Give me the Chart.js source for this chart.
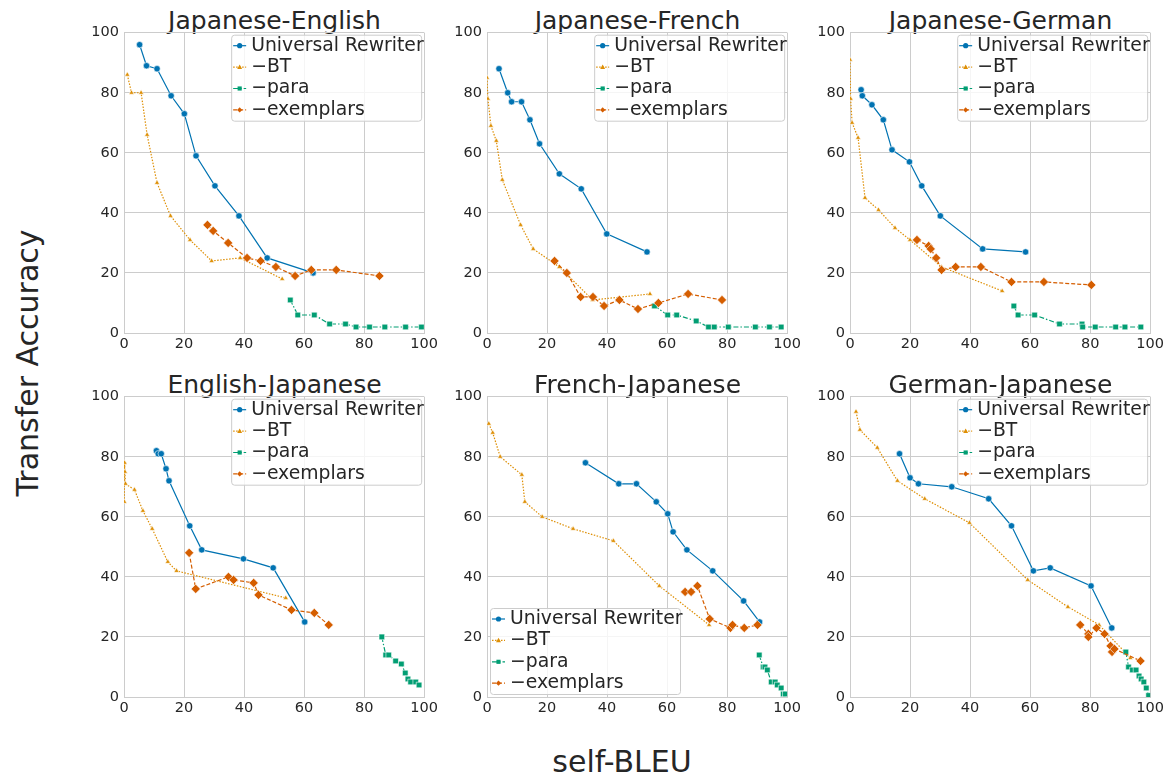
<!DOCTYPE html>
<html lang="en">
<head>
<meta charset="UTF-8" />
<title>Transfer Accuracy vs self-BLEU</title>
<script src="https://cdn.jsdelivr.net/npm/chart.js@4"></script>
<style>
  body { margin: 0; background: #fff; font-family: "DejaVu Sans", sans-serif; color: #262626; }
  #figure { position: relative; width: 1172px; height: 778px; overflow: hidden; }
  .panel { position: absolute; }
  .title { position: absolute; width: 301px; text-align: center; font-size: 25px; line-height: 1; white-space: nowrap; }
  .axis-label { position: absolute; font-size: 30px; line-height: 1; white-space: nowrap; transform: translate(-50%, -50%); }
  #ylabel { left: 28px; top: 363px; transform: translate(-50%, -50%) rotate(-90deg); }
  #xlabel { left: 622px; top: 762px; }
</style>
</head>
<body>
<div id="figure">
  <div class="axis-label" id="ylabel">Transfer Accuracy</div>
  <div class="axis-label" id="xlabel">self-BLEU</div>
</div>

<script>
// series labels and axis ticks
const seriesLabels = ["Universal Rewriter", "\u2212BT", "\u2212para", "\u2212exemplars"];
const axisTicks = [0, 20, 40, 60, 80, 100];
const panelTitles = ["Japanese-English", "Japanese-French", "Japanese-German",
                     "English-Japanese", "French-Japanese", "German-Japanese"];

// [self-BLEU, transfer accuracy]
const jaEnRewriter = [[5.2,96],[7.5,89],[11,88],[15.7,79],[20.1,73],[24,59],[30.3,49],[38.3,39],[47.7,25],[63,20]];
const jaEnBT = [[1.1,86],[2.5,80],[5.7,80],[7.7,66],[11,50],[15.5,39],[22,31],[29.2,24],[38.7,25],[52.7,18]];
const jaEnPara = [[55.4,11],[57.9,6],[63.4,6],[68.5,3],[73.8,3],[77.3,2],[81.8,2],[86.9,2],[93.8,2],[99.1,2]];
const jaEnExemplars = [[27.8,36],[29.7,34],[34.7,30],[41,25],[45.5,24],[50.6,22],[57,19],[62.4,21],[70.7,21],[85.1,19]];

const jaFrRewriter = [[4,88],[6.9,80],[8.2,77],[11.5,77],[14.3,71],[17.5,63],[24.1,53],[31.4,48],[39.9,33],[53.3,27]];
const jaFrBT = [[0,85],[0.3,78],[1.3,69],[3.1,64],[5.1,51],[11.2,36],[15.4,28],[24.1,22],[35.2,11],[54.3,13]];
const jaFrPara = [[55.8,9],[60.2,6],[63.2,6],[69.7,4],[73.8,2],[75.7,2],[80.4,2],[89.4,2],[94.1,2],[98,2]];
const jaFrExemplars = [[22.5,24],[26.6,20],[31.2,12],[35.3,12],[39,9],[44.1,11],[50.3,8],[57.1,10],[67,13],[78.3,11]];

const jaDeRewriter = [[3.7,81],[4.1,79],[7.3,76],[11.1,71],[14,61],[19.8,57],[23.9,49],[30.1,39],[44.2,28],[58.5,27]];
const jaDeBT = [[0,91],[0.2,78],[0.7,70],[2.7,65],[5,45],[9.5,41],[15,35],[20,31],[30.5,22],[50.7,14]];
const jaDePara = [[54.6,9],[56,6],[61.5,6],[69.8,3],[77.3,3],[77.5,2],[81.7,2],[88.5,2],[91.6,2],[96.9,2]];
const jaDeExemplars = [[22.3,31],[26.2,29],[26.9,28],[28.7,25],[30.5,21],[35.2,22],[43.6,22],[53.8,17],[64.6,17],[80.4,16]];

const enJaRewriter = [[10.8,82],[11.4,81],[12.4,81],[14,76],[15,72],[21.9,57],[25.9,49],[39.8,46],[49.7,43],[60.2,25]];
const enJaBT = [[0.1,65],[0.2,78],[0.3,75],[0.5,71],[3.5,69],[6.3,62],[9.4,56],[14.6,45],[17.5,42],[53.9,33]];
const enJaPara = [[85.9,20],[87.2,14],[88.2,14],[90.5,12],[92.4,11],[93.7,8],[94.6,6],[95.5,5],[97.2,5],[98.3,4]];
const enJaExemplars = [[21.7,48],[23.9,36],[34.8,40],[36.5,39],[43.2,38],[44.8,34],[55.8,29],[63.4,28],[68.2,24]];

const frJaRewriter = [[32.8,78],[43.9,71],[49.8,71],[56.4,65],[60.2,61],[62,55],[66.6,49],[75.2,42],[85.5,32],[90.8,25]];
const frJaBT = [[0.6,91],[1.9,88],[4.4,80],[11.6,74],[12.6,65],[18.4,60],[28.7,56],[42.1,52],[57.4,37],[74,24]];
const frJaPara = [[90.7,14],[92,10],[92.6,10],[93.4,9],[94.7,5],[96,5],[96.7,4],[98,3],[98.7,1],[99.4,1]];
const frJaExemplars = [[66,35],[68,35],[70.1,37],[74.2,26],[81.1,23],[81.8,24],[85.7,23],[90.1,24]];

const deJaRewriter = [[16.5,81],[20,73],[22.8,71],[33.9,70],[46.2,66],[53.8,57],[61.1,42],[66.7,43],[80.3,37],[87.2,23]];
const deJaBT = [[2,95],[3.3,89],[9.1,83],[15.8,72],[24.9,66],[39.8,58],[59.2,39],[72.6,30],[83,24],[93.4,13]];
const deJaPara = [[91.9,15],[92.8,10],[94.1,9],[95.3,9],[96.3,7],[97,6],[97.9,5],[98.7,3],[99.5,0.5]];
const deJaExemplars = [[76.7,24],[79.4,21],[79.4,20],[82.1,23],[84.8,21],[86.8,17],[87.3,15],[88.1,16],[96.8,12]];

const panelSeries = [
  [jaEnRewriter, jaEnBT, jaEnPara, jaEnExemplars],
  [jaFrRewriter, jaFrBT, jaFrPara, jaFrExemplars],
  [jaDeRewriter, jaDeBT, jaDePara, jaDeExemplars],
  [enJaRewriter, enJaBT, enJaPara, enJaExemplars],
  [frJaRewriter, frJaBT, frJaPara, frJaExemplars],
  [deJaRewriter, deJaBT, deJaPara, deJaExemplars],
];

// styling
const seriesColors = ["#0173B2", "#DE8F05", "#029E73", "#D55E00"];
const seriesDashes = [[], [1.5, 1.5], [5, 2, 1.5, 2], [4, 2]];
const seriesShapes = ["circle", "triangle", "rect", "rectRot"];
const seriesRadius = [3.2, 3, 4, 4.6];
const legendCorner = ["tr", "tr", "tr", "tr", "bl", "tr"];

const plotLefts = [124, 487, 850];
const plotTops = [31, 395];
const plotW = 301, plotH = 302;
const padL = 50, padT = 12, padR = 16, padB = 30;
const gridColor = "#cccccc";
const textColor = "#262626";

// small marker for the legend handles
function drawMarker(ctx, shape, x, y, r) {
  ctx.beginPath();
  if (shape === "circle") {
    ctx.arc(x, y, r, 0, Math.PI * 2);
  } else if (shape === "triangle") {
    ctx.moveTo(x, y - r);
    ctx.lineTo(x + r * 0.95, y + r * 0.7);
    ctx.lineTo(x - r * 0.95, y + r * 0.7);
    ctx.closePath();
  } else if (shape === "rect") {
    ctx.rect(x - r * 0.8, y - r * 0.8, r * 1.6, r * 1.6);
  } else {
    ctx.moveTo(x, y - r);
    ctx.lineTo(x + r, y);
    ctx.lineTo(x, y + r);
    ctx.lineTo(x - r, y);
    ctx.closePath();
  }
  ctx.fill();
}

// legend drawn inside the axes like matplotlib
const insideLegend = {
  id: "insideLegend",
  afterDatasetsDraw(chart, args, opts) {
    const { ctx, chartArea } = chart;
    const w = 190, h = 86;
    const x = opts.corner === "bl" ? chartArea.left + 3 : chartArea.right - 3 - w;
    const y = opts.corner === "bl" ? chartArea.bottom - 3 - h : chartArea.top + 2;
    ctx.save();
    ctx.beginPath();
    ctx.roundRect(x + 0.5, y + 0.5, w, h, 3);
    ctx.fillStyle = "rgba(255,255,255,0.8)";
    ctx.fill();
    ctx.strokeStyle = gridColor;
    ctx.lineWidth = 1;
    ctx.stroke();

    ctx.font = "18.8px 'DejaVu Sans'";
    ctx.textBaseline = "middle";
    seriesLabels.forEach((label, i) => {
      const cy = y + 11 + i * 21.4;
      ctx.strokeStyle = seriesColors[i];
      ctx.lineWidth = 1.2;
      ctx.setLineDash(seriesDashes[i]);
      ctx.beginPath();
      ctx.moveTo(x + 2, cy);
      ctx.lineTo(x + 15, cy);
      ctx.stroke();
      ctx.setLineDash([]);
      ctx.fillStyle = seriesColors[i];
      drawMarker(ctx, seriesShapes[i], x + 8.5, cy, 2.6);
      ctx.fillStyle = textColor;
      ctx.fillText(label, x + 20, cy);
    });
    ctx.restore();
  },
};

const figure = document.getElementById("figure");

panelSeries.forEach((series, p) => {
  const left = plotLefts[p % 3];
  const top = plotTops[Math.floor(p / 3)];

  const title = document.createElement("div");
  title.className = "title";
  title.textContent = panelTitles[p];
  title.style.left = left + "px";
  title.style.top = (top - 23) + "px";
  figure.appendChild(title);

  const canvas = document.createElement("canvas");
  canvas.className = "panel";
  canvas.width = padL + plotW + padR;
  canvas.height = padT + plotH + padB;
  canvas.style.left = (left - padL) + "px";
  canvas.style.top = (top - padT) + "px";
  figure.appendChild(canvas);

  new Chart(canvas, {
    type: "scatter",
    data: {
      datasets: series.map((points, i) => ({
        label: seriesLabels[i],
        data: points.map(([x, y]) => ({ x, y })),
        showLine: true,
        borderColor: seriesColors[i],
        backgroundColor: seriesColors[i],
        borderWidth: 1.2,
        borderDash: seriesDashes[i],
        pointStyle: seriesShapes[i],
        pointRadius: seriesRadius[i],
        pointBorderColor: "#ffffff",
        pointBorderWidth: 0.6,
        pointBackgroundColor: seriesColors[i],
        order: 4 - i,
      })),
    },
    options: {
      responsive: false,
      animation: false,
      layout: { padding: { top: padT, right: padR, left: 0, bottom: 0 } },
      plugins: {
        legend: { display: false },
        tooltip: { enabled: false },
        insideLegend: { corner: legendCorner[p] },
      },
      scales: {
        x: {
          type: "linear",
          min: 0,
          max: 100,
          afterBuildTicks: (s) => { s.ticks = axisTicks.map((v) => ({ value: v })); },
          afterFit: (s) => { s.height = padB; },
          grid: { color: gridColor, lineWidth: 1, drawTicks: false },
          border: { color: gridColor, width: 1 },
          ticks: { color: textColor, padding: 3, maxRotation: 0, font: { family: "DejaVu Sans", size: 14.5 } },
        },
        y: {
          type: "linear",
          min: 0,
          max: 100,
          afterBuildTicks: (s) => { s.ticks = axisTicks.map((v) => ({ value: v })); },
          afterFit: (s) => { s.width = padL; },
          grid: { color: gridColor, lineWidth: 1, drawTicks: false },
          border: { color: gridColor, width: 1 },
          ticks: { color: textColor, padding: 5, font: { family: "DejaVu Sans", size: 14.5 } },
        },
      },
    },
    plugins: [insideLegend],
  });
});
</script>
</body>
</html>
